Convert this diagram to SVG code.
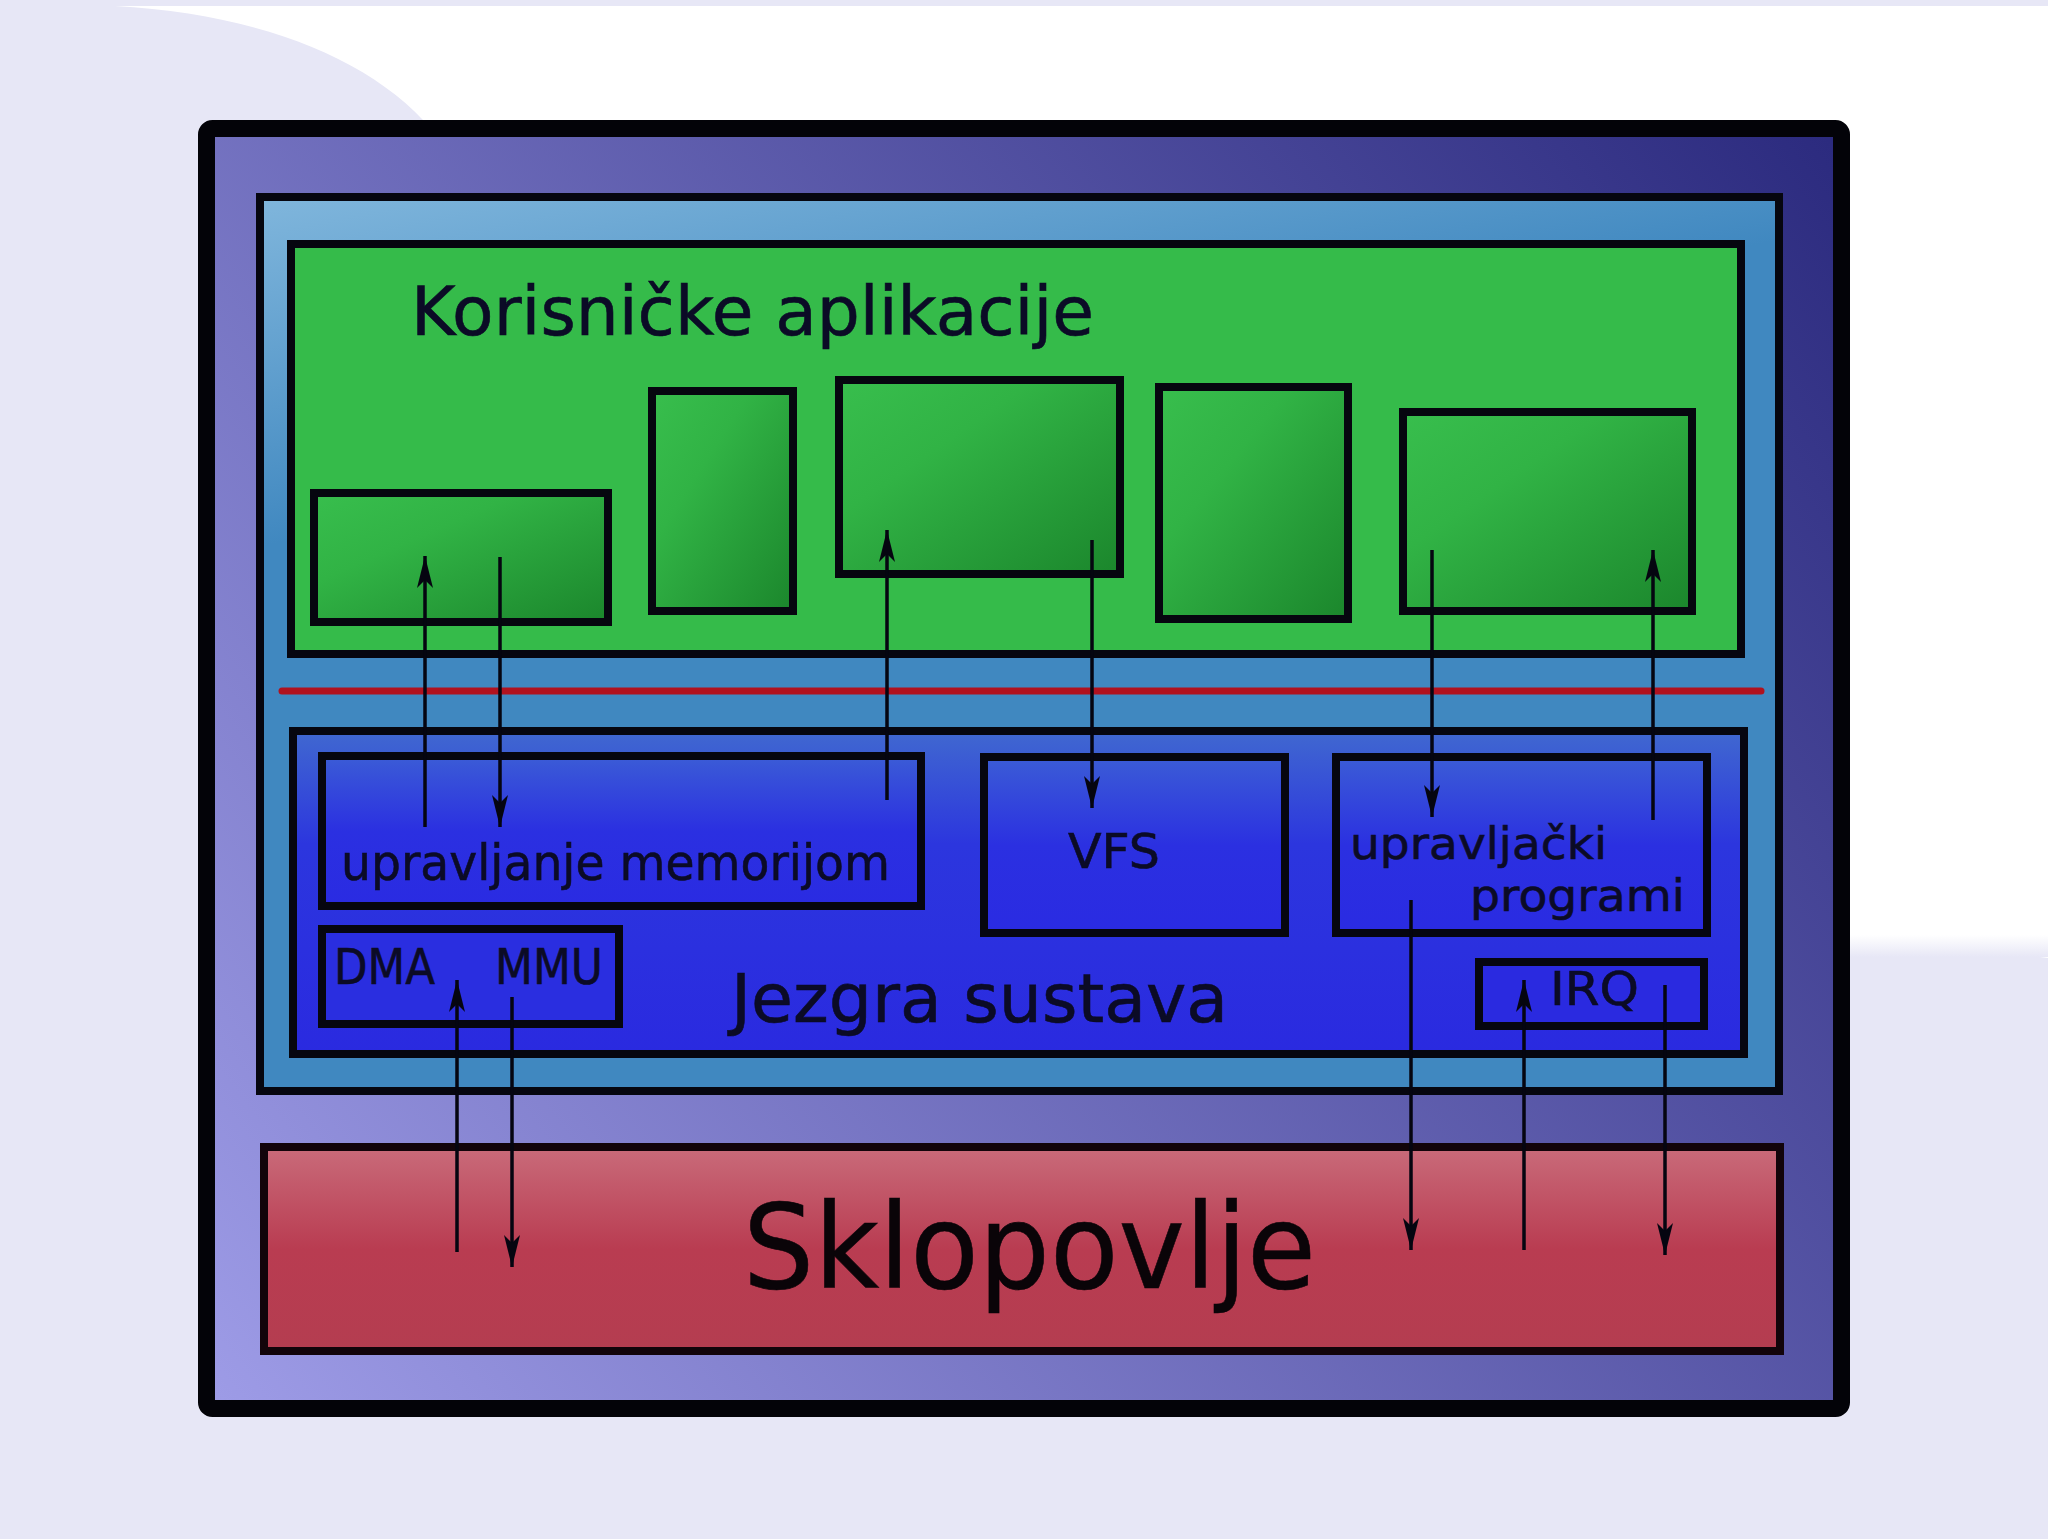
<svg xmlns="http://www.w3.org/2000/svg" width="2048" height="1539" viewBox="0 0 2048 1539">
  <defs>
    <linearGradient id="gPurple" gradientUnits="userSpaceOnUse" x1="215" y1="1395" x2="1841" y2="156">
      <stop offset="0" stop-color="#9d9be6"/>
      <stop offset="1" stop-color="#2c2b7f"/>
    </linearGradient>
    <linearGradient id="gLightBlue" x1="0" y1="0" x2="0.12" y2="0.35">
      <stop offset="0" stop-color="#80b6dc"/>
      <stop offset="1" stop-color="#4088c0"/>
    </linearGradient>
    <linearGradient id="gApp" x1="0" y1="0" x2="1" y2="1">
      <stop offset="0" stop-color="#38be4d"/>
      <stop offset="0.35" stop-color="#31b345"/>
      <stop offset="1" stop-color="#1b862c"/>
    </linearGradient>
    <linearGradient id="gKernel" x1="0" y1="0" x2="0" y2="1">
      <stop offset="0" stop-color="#4068d0"/>
      <stop offset="0.35" stop-color="#2c36de"/>
      <stop offset="1" stop-color="#2a2ae0"/>
    </linearGradient>
    <linearGradient id="gInner" x1="0" y1="0" x2="0" y2="1">
      <stop offset="0" stop-color="#3b5cd6"/>
      <stop offset="0.5" stop-color="#2b30e1"/>
      <stop offset="1" stop-color="#2a2be2"/>
    </linearGradient>
    <linearGradient id="gHw" x1="0" y1="0" x2="0" y2="1">
      <stop offset="0" stop-color="#c96b7a"/>
      <stop offset="0.5" stop-color="#b93c51"/>
      <stop offset="1" stop-color="#b43d50"/>
    </linearGradient>
    <linearGradient id="gEdge" x1="0" y1="0" x2="0" y2="1">
      <stop offset="0" stop-color="#ffffff"/>
      <stop offset="1" stop-color="#e7e7f6"/>
    </linearGradient>
    <marker id="arrow" viewBox="-34 -10 36 20" refX="0" refY="0" markerWidth="36" markerHeight="20" markerUnits="userSpaceOnUse" orient="auto">
      <path d="M0,0 L-32,-8 L-24,0 L-32,8 Z" fill="#050510"/>
    </marker>
    <style>
      .box { stroke: #06060f; stroke-width: 8; }
      .lbl { font-family: "DejaVu Sans", "Liberation Sans", sans-serif; fill: #0b0b26; stroke: #0b0b26; stroke-width: 0.6; }
      .conn { stroke: #050510; stroke-width: 3.5; fill: none; }
    </style>
  </defs>

  <!-- background -->
  <rect x="0" y="0" width="2048" height="1539" fill="#e7e7f6"/>
  <path d="M115,6 C260,14 380,60 440,140 L1800,140 L1800,940 Q1950,946 2048,958 L2048,6 Z" fill="#ffffff"/>
  <rect x="1850" y="935" width="198" height="22" fill="url(#gEdge)"/>

  <g id="system-frame">
    <rect x="206.5" y="128.5" width="1635" height="1280" rx="6" fill="url(#gPurple)" stroke="#030308" stroke-width="17"/>
  </g>

  <g id="os-area">
    <rect class="box" x="260" y="197" width="1519" height="894" fill="url(#gLightBlue)"/>
  </g>

  <g id="user-apps">
    <rect class="box" x="291" y="244" width="1450" height="410" fill="#35bb4a"/>
    <text class="lbl" x="411" y="335" font-size="67" textLength="683" lengthAdjust="spacingAndGlyphs">Korisničke aplikacije</text>
  </g>
  <g id="app1"><rect class="box" x="314" y="493" width="294" height="129" fill="url(#gApp)"/></g>
  <g id="app2"><rect class="box" x="652" y="391" width="141" height="220" fill="url(#gApp)"/></g>
  <g id="app3"><rect class="box" x="839" y="380" width="281" height="194" fill="url(#gApp)"/></g>
  <g id="app4"><rect class="box" x="1159" y="387" width="189" height="232" fill="url(#gApp)"/></g>
  <g id="app5"><rect class="box" x="1403" y="412" width="289" height="199" fill="url(#gApp)"/></g>

  <g id="boundary">
    <line x1="282" y1="691" x2="1761" y2="691" stroke="#b0121f" stroke-width="7" stroke-linecap="round"/>
  </g>

  <g id="kernel">
    <rect class="box" x="293" y="731" width="1451" height="323" fill="url(#gKernel)"/>
    <text class="lbl" x="731" y="1022" font-size="68" textLength="497" lengthAdjust="spacingAndGlyphs">Jezgra sustava</text>
  </g>
  <g id="memory-management">
    <rect class="box" x="322" y="756" width="599" height="150" fill="url(#gInner)"/>
    <text class="lbl" x="341" y="880" font-size="50" textLength="549" lengthAdjust="spacingAndGlyphs">upravljanje memorijom</text>
  </g>
  <g id="dma-mmu">
    <rect class="box" x="322" y="929" width="297" height="95" fill="#2a2ee0"/>
    <text class="lbl" x="334" y="984" font-size="50" textLength="101" lengthAdjust="spacingAndGlyphs">DMA</text>
    <text class="lbl" x="495" y="984" font-size="50" textLength="108" lengthAdjust="spacingAndGlyphs">MMU</text>
  </g>
  <g id="vfs">
    <rect class="box" x="984" y="757" width="301" height="176" fill="url(#gInner)"/>
    <text class="lbl" x="1068" y="868" font-size="48" textLength="92" lengthAdjust="spacingAndGlyphs">VFS</text>
  </g>
  <g id="drivers">
    <rect class="box" x="1336" y="757" width="371" height="176" fill="url(#gInner)"/>
    <text class="lbl" x="1350" y="859" font-size="44" textLength="257" lengthAdjust="spacingAndGlyphs">upravljački</text>
    <text class="lbl" x="1470" y="911" font-size="44" textLength="215" lengthAdjust="spacingAndGlyphs">programi</text>
  </g>
  <g id="irq">
    <rect class="box" x="1479" y="962" width="225" height="64" fill="#2a2ae0"/>
    <text class="lbl" x="1550" y="1005" font-size="46" textLength="89" lengthAdjust="spacingAndGlyphs">IRQ</text>
  </g>

  <g id="hardware">
    <rect x="264" y="1147" width="1516" height="204" fill="url(#gHw)" stroke="#12040a" stroke-width="8"/>
    <text class="lbl" x="743" y="1288" font-size="118" textLength="573" lengthAdjust="spacingAndGlyphs" style="fill:#0a0408;stroke:#0a0408">Sklopovlje</text>
  </g>

  <g id="connectors">
    <line class="conn" x1="425" y1="827" x2="425" y2="556" marker-end="url(#arrow)"/>
    <line class="conn" x1="500" y1="557" x2="500" y2="827" marker-end="url(#arrow)"/>
    <line class="conn" x1="887" y1="800" x2="887" y2="530" marker-end="url(#arrow)"/>
    <line class="conn" x1="1092" y1="540" x2="1092" y2="808" marker-end="url(#arrow)"/>
    <line class="conn" x1="1432" y1="550" x2="1432" y2="817" marker-end="url(#arrow)"/>
    <line class="conn" x1="1653" y1="820" x2="1653" y2="550" marker-end="url(#arrow)"/>
    <line class="conn" x1="457" y1="1252" x2="457" y2="980" marker-end="url(#arrow)"/>
    <line class="conn" x1="512" y1="997" x2="512" y2="1267" marker-end="url(#arrow)"/>
    <line class="conn" x1="1411" y1="900" x2="1411" y2="1250" marker-end="url(#arrow)"/>
    <line class="conn" x1="1524" y1="1250" x2="1524" y2="980" marker-end="url(#arrow)"/>
    <line class="conn" x1="1665" y1="985" x2="1665" y2="1255" marker-end="url(#arrow)"/>
  </g>
</svg>
